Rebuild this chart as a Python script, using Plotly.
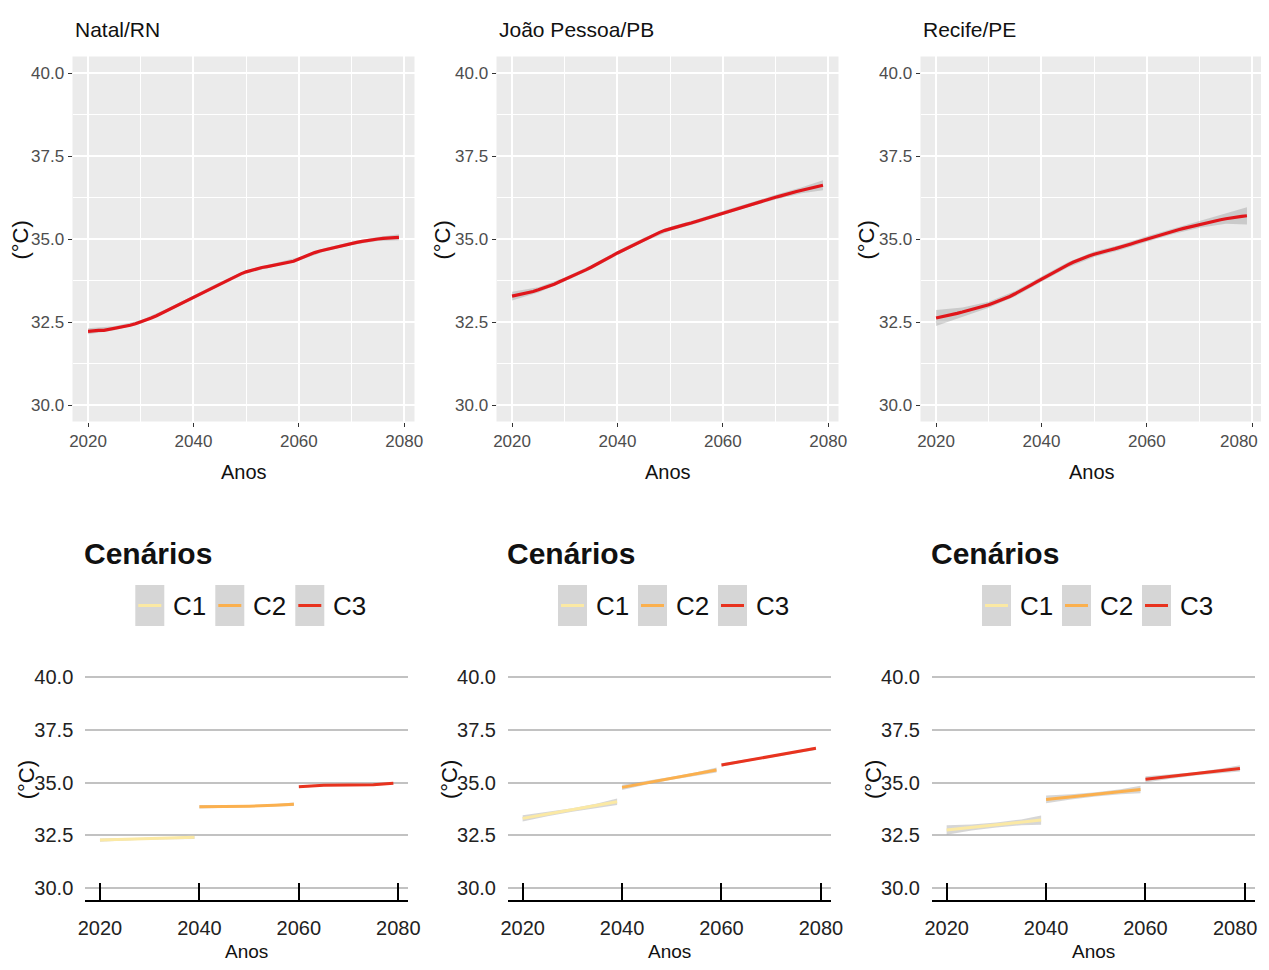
import plotly.graph_objects as go

W, H = 1269, 970
OFF = 8                      # page (body) margin of the html page
FIG_W, FIG_H = W - OFF, H - 2 * OFF
FONT = "Liberation Sans Narrow, Arial Narrow, Liberation Sans, Arial, sans-serif"

# ---------------- data ----------------
cities = ["Natal/RN", "João Pessoa/PB", "Recife/PE"]
years = list(range(2020, 2080))

natal = [32.22, 32.24, 32.25, 32.25, 32.28, 32.31, 32.33, 32.36, 32.40, 32.45,
         32.50, 32.56, 32.62, 32.69, 32.77, 32.85, 32.93, 33.01, 33.09, 33.17,
         33.25, 33.33, 33.41, 33.49, 33.57, 33.65, 33.73, 33.81, 33.88, 33.95,
         34.01, 34.06, 34.10, 34.14, 34.17, 34.20, 34.23, 34.26, 34.29, 34.33,
         34.40, 34.47, 34.53, 34.59, 34.64, 34.68, 34.72, 34.76, 34.80, 34.84,
         34.87, 34.90, 34.93, 34.96, 34.98, 35.00, 35.02, 35.03, 35.04, 35.05]
joao_pessoa = [33.28, 33.31, 33.35, 33.38, 33.42, 33.47, 33.52, 33.58, 33.64, 33.71,
               33.78, 33.84, 33.91, 33.99, 34.07, 34.15, 34.23, 34.32, 34.40, 34.49,
               34.58, 34.66, 34.74, 34.82, 34.90, 34.98, 35.06, 35.13, 35.20, 35.26,
               35.31, 35.35, 35.40, 35.44, 35.48, 35.53, 35.58, 35.63, 35.68, 35.73,
               35.78, 35.83, 35.88, 35.93, 35.98, 36.03, 36.08, 36.13, 36.18, 36.22,
               36.26, 36.30, 36.35, 36.39, 36.43, 36.47, 36.51, 36.55, 36.59, 36.62]
recife = [32.62, 32.65, 32.69, 32.72, 32.76, 32.80, 32.84, 32.88, 32.92, 32.97,
          33.02, 33.08, 33.14, 33.20, 33.27, 33.35, 33.43, 33.52, 33.61, 33.70,
          33.79, 33.88, 33.97, 34.06, 34.14, 34.22, 34.30, 34.37, 34.43, 34.49,
          34.54, 34.59, 34.63, 34.67, 34.71, 34.75, 34.80, 34.85, 34.90, 34.95,
          35.00, 35.05, 35.10, 35.15, 35.19, 35.23, 35.28, 35.32, 35.36, 35.40,
          35.44, 35.48, 35.51, 35.55, 35.58, 35.61, 35.64, 35.66, 35.68, 35.70]

# confidence band half-widths at these years
band_years = [2020, 2025, 2030, 2035, 2040, 2045, 2050, 2055, 2060, 2065, 2070, 2075, 2079]
natal_hw = [0.09, 0.06, 0.05, 0.05, 0.05, 0.05, 0.05, 0.05, 0.05, 0.05, 0.05, 0.06, 0.09]
joao_pessoa_hw = [0.13, 0.08, 0.06, 0.06, 0.06, 0.06, 0.06, 0.06, 0.06, 0.06, 0.07, 0.09, 0.15]
recife_hw = [0.24, 0.14, 0.09, 0.08, 0.08, 0.08, 0.08, 0.08, 0.08, 0.08, 0.10, 0.15, 0.26]

# scenarios (bottom row)
scenarios = ["C1", "C2", "C3"]
scenario_colors = ["#FBE9A4", "#FBB04E", "#E8331F"]
c1_years = [2020, 2025, 2030, 2035, 2039]
c2_years = [2040, 2045, 2050, 2055, 2059]
c3_years = [2060, 2065, 2070, 2075, 2079]

natal_c1 = [32.27, 32.30, 32.34, 32.37, 32.40]
natal_c2 = [33.85, 33.86, 33.88, 33.92, 33.97]
natal_c3 = [34.80, 34.87, 34.88, 34.90, 34.97]
joao_pessoa_c1 = [33.30, 33.50, 33.70, 33.90, 34.09]
joao_pessoa_c2 = [34.77, 34.99, 35.20, 35.41, 35.59]
joao_pessoa_c3 = [35.83, 36.04, 36.24, 36.44, 36.62]
recife_c1 = [32.75, 32.87, 32.99, 33.11, 33.22]
recife_c2 = [34.20, 34.32, 34.44, 34.56, 34.67]
recife_c3 = [35.15, 35.28, 35.41, 35.55, 35.67]

natal_c_hw = [[0.08, 0.05, 0.04, 0.05, 0.08], [0.08, 0.05, 0.04, 0.05, 0.08], [0.06, 0.04, 0.04, 0.04, 0.06]]
joao_pessoa_c_hw = [[0.15, 0.10, 0.08, 0.10, 0.15], [0.12, 0.08, 0.07, 0.08, 0.12], [0.08, 0.05, 0.05, 0.05, 0.08]]
recife_c_hw = [[0.22, 0.14, 0.12, 0.14, 0.22], [0.18, 0.12, 0.10, 0.12, 0.18], [0.15, 0.10, 0.08, 0.10, 0.15]]

y_ticks = [30.0, 32.5, 35.0, 37.5, 40.0]
x_ticks = [2020, 2040, 2060, 2080]
x_tick_labels = ["2020", "2040", "2060", "2080"]

top_series = [natal, joao_pessoa, recife]
top_hw = [natal_hw, joao_pessoa_hw, recife_hw]
bottom_series = [[natal_c1, natal_c2, natal_c3],
                 [joao_pessoa_c1, joao_pessoa_c2, joao_pessoa_c3],
                 [recife_c1, recife_c2, recife_c3]]
bottom_hw = [natal_c_hw, joao_pessoa_c_hw, recife_c_hw]
seg_years = [c1_years, c2_years, c3_years]

# ---------------- layout geometry (screen pixels) ----------------
def px(x):
    return (x - OFF) / FIG_W

def py(y):
    return 1 - (y - OFF) / FIG_H

top_x_px = [(72.5, 414.5), (496.5, 838.5), (920.5, 1262.5)]
top_y_px = (56.4, 421.6)
bot_x_px = [(85.3, 408.0), (508.0, 830.6), (932.0, 1254.6)]
bot_y_px = (666.5, 899.6)
top_ytitle_x = [19.5, 441.5, 865.5]
RIGHT_EDGE = 1260            # last visible pixel column for the right-most labels

TOP_LINE = "#E0161B"
BAND = "rgba(153,153,153,0.4)"

fig = go.Figure()
layout = dict(width=FIG_W, height=FIG_H, margin=dict(l=0, r=0, t=0, b=0, pad=0),
              paper_bgcolor="white", plot_bgcolor="white", showlegend=False)
shapes = []
annotations = []

for i in range(3):
    last = (i == 2)
    # the right-most "2080" labels are drawn as annotations kept inside the page
    tick_text = x_tick_labels[:-1] + [""] if last else x_tick_labels

    # ---------- top panel ----------
    ax = 2 * i + 1
    xs = f"x{ax}" if ax > 1 else "x"
    ys = f"y{ax}" if ax > 1 else "y"
    series = top_series[i]
    lo = [series[years.index(by)] - h for by, h in zip(band_years, top_hw[i])]
    hi = [series[years.index(by)] + h for by, h in zip(band_years, top_hw[i])]
    fig.add_trace(go.Scatter(x=band_years + band_years[::-1], y=hi + lo[::-1],
                             fill="toself", fillcolor=BAND, line=dict(width=0),
                             mode="lines", xaxis=xs, yaxis=ys, hoverinfo="skip"))
    fig.add_trace(go.Scatter(x=years, y=series, mode="lines",
                             line=dict(color=TOP_LINE, width=3.2),
                             xaxis=xs, yaxis=ys, name=cities[i]))
    xk = "xaxis" if ax == 1 else f"xaxis{ax}"
    yk = "yaxis" if ax == 1 else f"yaxis{ax}"
    layout[xk] = dict(domain=[px(top_x_px[i][0]), px(top_x_px[i][1])],
                      range=[2017.05, 2081.95], anchor=ys, automargin=False,
                      tickvals=x_ticks, ticktext=tick_text, ticks="outside", ticklen=4,
                      tickcolor="#333333", tickwidth=1, ticklabeloverflow="allow",
                      showgrid=True, gridcolor="white", gridwidth=1.6,
                      minor=dict(tickvals=[2030, 2050, 2070], showgrid=True,
                                 gridcolor="white", gridwidth=0.8, ticks=""),
                      zeroline=False, showline=False,
                      tickfont=dict(family=FONT, size=17, color="#4D4D4D"))
    layout[yk] = dict(domain=[py(top_y_px[1]), py(top_y_px[0])],
                      range=[29.5, 40.5], anchor=xs, automargin=False,
                      tickvals=y_ticks, tickformat=".1f", ticks="outside",
                      ticklen=4, tickcolor="#333333", tickwidth=1,
                      ticklabeloverflow="allow",
                      showgrid=True, gridcolor="white", gridwidth=1.6,
                      minor=dict(tickvals=[31.25, 33.75, 36.25, 38.75], showgrid=True,
                                 gridcolor="white", gridwidth=0.8, ticks=""),
                      zeroline=False, showline=False,
                      tickfont=dict(family=FONT, size=17, color="#4D4D4D"))
    shapes.append(dict(type="rect", xref=f"{xs} domain", yref=f"{ys} domain",
                       x0=0, x1=1, y0=0, y1=1, fillcolor="#EBEBEB",
                       line=dict(width=0), layer="below"))
    annotations.append(dict(text=cities[i], xref="paper", yref="paper",
                            x=px(top_x_px[i][0]), y=py(30), xanchor="left",
                            yanchor="middle", showarrow=False,
                            font=dict(family=FONT, size=21, color="#111111")))
    annotations.append(dict(text="Anos", xref="paper", yref="paper",
                            x=px((top_x_px[i][0] + top_x_px[i][1]) / 2), y=py(472),
                            xanchor="center", yanchor="middle", showarrow=False,
                            font=dict(family=FONT, size=20, color="#111111")))
    annotations.append(dict(text="(°C)", xref="paper", yref="paper",
                            x=px(top_ytitle_x[i]), y=py(240), textangle=-90,
                            xanchor="center", yanchor="middle", showarrow=False,
                            font=dict(family=FONT, size=22, color="#111111")))
    if last:
        annotations.append(dict(text=x_tick_labels[-1], xref="paper", yref="paper",
                                x=px(RIGHT_EDGE), y=py(441), xanchor="right",
                                yanchor="middle", showarrow=False,
                                font=dict(family=FONT, size=17, color="#4D4D4D")))

    # ---------- bottom panel ----------
    bx = 2 * i + 2
    bxs, bys = f"x{bx}", f"y{bx}"
    for k in range(3):
        vals = bottom_series[i][k]
        hw = bottom_hw[i][k]
        yrs = seg_years[k]
        lo = [v - h for v, h in zip(vals, hw)]
        hi = [v + h for v, h in zip(vals, hw)]
        fig.add_trace(go.Scatter(x=yrs + yrs[::-1], y=hi + lo[::-1], fill="toself",
                                 fillcolor=BAND, line=dict(width=0), mode="lines",
                                 xaxis=bxs, yaxis=bys, hoverinfo="skip"))
        fig.add_trace(go.Scatter(x=yrs, y=vals, mode="lines", name=scenarios[k],
                                 line=dict(color=scenario_colors[k], width=3),
                                 xaxis=bxs, yaxis=bys))
    layout[f"xaxis{bx}"] = dict(domain=[px(bot_x_px[i][0]), px(bot_x_px[i][1])],
                                range=[2017.05, 2081.95], anchor=bys, automargin=False,
                                tickvals=x_ticks, ticktext=tick_text,
                                ticks="inside", ticklen=17,
                                tickcolor="black", tickwidth=1.5,
                                showline=True, linecolor="black", linewidth=1.5,
                                showgrid=False, zeroline=False,
                                ticklabelstandoff=10, ticklabeloverflow="allow",
                                tickfont=dict(family=FONT, size=20, color="#222222"))
    layout[f"yaxis{bx}"] = dict(domain=[py(bot_y_px[1]), py(bot_y_px[0])],
                                range=[29.45, 40.5], anchor=bxs, automargin=False,
                                tickvals=y_ticks, tickformat=".1f", ticks="",
                                ticklabelstandoff=11, ticklabeloverflow="allow",
                                showgrid=True, gridcolor="#C2C2C2", gridwidth=2,
                                zeroline=False, showline=False,
                                tickfont=dict(family=FONT, size=20, color="#222222"))
    L = bot_x_px[i][0]
    annotations.append(dict(text="<b>Cenários</b>", xref="paper", yref="paper",
                            x=px(L - 3), y=py(553), xanchor="left", yanchor="middle",
                            showarrow=False,
                            font=dict(family=FONT, size=30, color="#111111")))
    for k in range(3):
        kx = L + 50 + 80 * k
        shapes.append(dict(type="rect", xref="paper", yref="paper",
                           x0=px(kx), x1=px(kx + 29), y0=py(626), y1=py(585),
                           fillcolor="#D6D6D6", line=dict(width=0)))
        shapes.append(dict(type="line", xref="paper", yref="paper",
                           x0=px(kx + 3), x1=px(kx + 26), y0=py(605.5), y1=py(605.5),
                           line=dict(color=scenario_colors[k], width=3)))
        annotations.append(dict(text=scenarios[k], xref="paper", yref="paper",
                                x=px(kx + 36), y=py(606), xanchor="left",
                                yanchor="middle", showarrow=False,
                                font=dict(family=FONT, size=26, color="#111111")))
    annotations.append(dict(text="Anos", xref="paper", yref="paper",
                            x=px((bot_x_px[i][0] + bot_x_px[i][1]) / 2), y=py(951),
                            xanchor="center", yanchor="middle", showarrow=False,
                            font=dict(family=FONT, size=19, color="#111111")))
    annotations.append(dict(text="(°C)", xref="paper", yref="paper",
                            x=px(L - 59), y=py(780), textangle=-90,
                            xanchor="center", yanchor="middle", showarrow=False,
                            font=dict(family=FONT, size=22, color="#111111")))
    if last:
        annotations.append(dict(text=x_tick_labels[-1], xref="paper", yref="paper",
                                x=px(RIGHT_EDGE), y=py(928), xanchor="right",
                                yanchor="middle", showarrow=False,
                                font=dict(family=FONT, size=20, color="#222222")))

layout["shapes"] = shapes
layout["annotations"] = annotations
fig.update_layout(**layout)
fig.write_html("out.html")
